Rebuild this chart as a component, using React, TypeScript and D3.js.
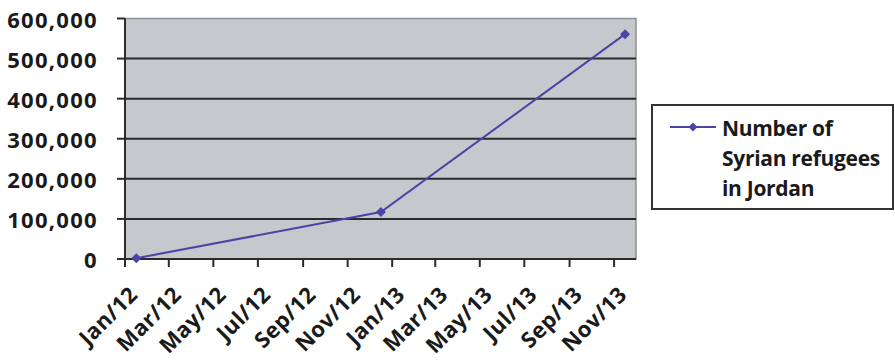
import React from "react";
import * as d3 from "d3";

// Registered Syrian refugees in Jordan
const months: string[] = ["2012-01", "2012-12", "2013-11"];
const refugees: number[] = [2000, 117000, 561000];

const yTicks: number[] = [0, 100000, 200000, 300000, 400000, 500000, 600000];
const xTickLabels: string[] = [
  "Jan/12", "Mar/12", "May/12", "Jul/12", "Sep/12", "Nov/12",
  "Jan/13", "Mar/13", "May/13", "Jul/13", "Sep/13", "Nov/13",
];
const seriesName: string[] = ["Number of", "Syrian refugees", "in Jordan"];

const W = 895;
const H = 360;
const plot = { left: 125, right: 636, top: 18.5, bottom: 259 };
const lineColor = "#4a44a6";
const font = "'Open Sans', 'Liberation Sans', sans-serif";

const parseMonth = d3.timeParse("%Y-%m");

export default function App() {
  const x = d3
    .scaleTime()
    .domain([new Date(2012, 0, 1), new Date(2013, 11, 1)])
    .range([plot.left, plot.right]);
  const y = d3.scaleLinear().domain([0, 600000]).range([plot.bottom, plot.top]);

  // major ticks every two months, from January 2012
  const xTicks = d3.timeMonth.every(2)!.range(new Date(2012, 0, 1), new Date(2013, 11, 1));

  // each point sits in the middle of its month
  const pts = months.map((m, i) => {
    const start = parseMonth(m)!;
    const end = d3.timeMonth.offset(start, 1);
    return [(x(start) + x(end)) / 2, y(refugees[i])] as [number, number];
  });

  const line = d3.line<[number, number]>().x((d) => d[0]).y((d) => d[1]);
  const fmt = d3.format(",");

  const diamond = (cx: number, cy: number, r: number) =>
    `M${cx},${cy - r}L${cx + r},${cy}L${cx},${cy + r}L${cx - r},${cy}Z`;

  return (
    <svg
      width={W}
      height={H}
      style={{ position: "absolute", left: 0, top: 0, background: "#fff" }}
      fontFamily={font}
    >
      <rect x={0} y={0} width={W} height={H} fill="#fff" />
      {/* plot area */}
      <rect
        x={plot.left}
        y={plot.top}
        width={plot.right - plot.left}
        height={plot.bottom - plot.top}
        fill="#c5c8cc"
        stroke="#8e9093"
        strokeWidth={1.5}
      />
      {/* horizontal gridlines */}
      {yTicks
        .filter((t) => t > 0 && t < 600000)
        .map((t) => (
          <line
            key={"g" + t}
            x1={plot.left}
            x2={plot.right}
            y1={y(t)}
            y2={y(t)}
            stroke="#2b2b2b"
            strokeWidth={2}
          />
        ))}
      {/* value axis */}
      <line x1={plot.left} x2={plot.left} y1={plot.top} y2={plot.bottom} stroke="#2b2b2b" strokeWidth={2} />
      {yTicks.map((t) => (
        <g key={"y" + t}>
          <line x1={plot.left - 8} x2={plot.left} y1={y(t)} y2={y(t)} stroke="#2b2b2b" strokeWidth={2} />
          <text
            x={98}
            y={y(t)}
            textAnchor="end"
            dominantBaseline="central"
            fontSize={22}
            fontWeight={700}
            letterSpacing={1.3}
            fill="#1a1a1a"
          >
            {fmt(t)}
          </text>
        </g>
      ))}
      {/* category axis */}
      <line x1={plot.left} x2={plot.right} y1={plot.bottom} y2={plot.bottom} stroke="#2b2b2b" strokeWidth={2} />
      {xTicks.map((d, i) => {
        const tx = x(d);
        return (
          <g key={"x" + i}>
            <line x1={tx} x2={tx} y1={plot.bottom} y2={plot.bottom + 8} stroke="#2b2b2b" strokeWidth={2} />
            <text
              transform={`translate(${tx + 14},${plot.bottom + 37}) rotate(-45)`}
              textAnchor="end"
              fontSize={22}
              fontWeight={700}
              letterSpacing={0.4}
              fill="#1a1a1a"
            >
              {xTickLabels[i]}
            </text>
          </g>
        );
      })}
      {/* series */}
      <path d={line(pts) ?? ""} fill="none" stroke={lineColor} strokeWidth={2} />
      {pts.map((p, i) => (
        <path key={"m" + i} d={diamond(p[0], p[1], 5)} fill={lineColor} />
      ))}
      {/* legend */}
      <rect x={652} y={105} width={241} height={104} fill="#fff" stroke="#333" strokeWidth={2} />
      <line x1={670} x2={716} y1={127} y2={127} stroke={lineColor} strokeWidth={2} />
      <path d={diamond(693, 127, 4.5)} fill={lineColor} />
      {seriesName.map((s, i) => (
        <text
          key={"l" + i}
          x={722}
          y={136 + i * 30}
          fontSize={21}
          fontWeight={700}
          letterSpacing={-0.3}
          fill="#1a1a1a"
        >
          {s}
        </text>
      ))}
    </svg>
  );
}
